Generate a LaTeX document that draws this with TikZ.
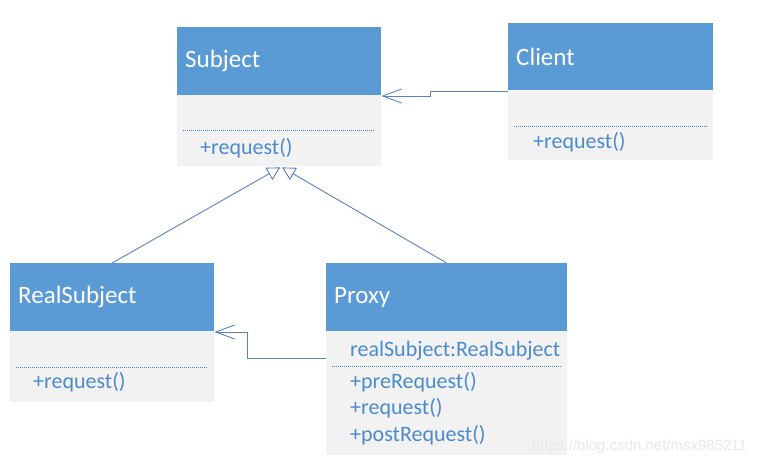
\documentclass[tikz,border=0pt]{standalone}
\usepackage{fontspec}
\setmainfont{Carlito}
\newfontfamily\markfont{Liberation Sans}
\usepackage{tikz}
\usetikzlibrary{arrows.meta,positioning}
\definecolor{headblue}{RGB}{91,155,213}
\definecolor{bodygray}{RGB}{242,242,242}
\definecolor{memblue}{RGB}{76,139,204}
\definecolor{lineblue}{RGB}{91,128,190}

\begin{document}
\begin{tikzpicture}[
    x=1pt, y=-1pt,
    head/.style={anchor=north west, fill=headblue, text=white, inner xsep=8pt,
                 minimum height=68pt, align=left, font=\fontsize{25}{29}\selectfont},
    body/.style={anchor=north west, fill=bodygray, inner sep=0pt},
    member/.style={anchor=west, inner sep=0pt, text=memblue, font=\fontsize{22}{26}\selectfont},
    sep/.style={draw=memblue, line width=0.6pt, dash pattern=on 1pt off 1pt},
    assoc/.style={-{Straight Barb[length=19pt, width=14pt]}, draw=lineblue, line width=0.9pt},
    inherit/.style={-{Triangle[open, length=13pt, width=14pt]}, draw=lineblue, line width=0.9pt}
]
    \useasboundingbox (0,0) rectangle (772,467);

    % Subject
    \node[head, text width=188pt] (subjhead) at (177,27) {Subject};
    \node[body, minimum width=204pt, minimum height=71pt] (subjbody) at (177,95) {};
    \draw[sep] (183,130) -- (375,130);
    \node[member] (subjreq) at (200,148) {+request()};

    % Client
    \node[head, text width=189pt, minimum height=67pt] (clienthead) at (508,23) {Client};
    \node[body, minimum width=205pt, minimum height=70pt] (clientbody) at (508,90) {};
    \draw[sep] (514,126) -- (707,126);
    \node[member] (clientreq) at (533,142) {+request()};

    % RealSubject
    \node[head, text width=188pt] (realhead) at (10,263) {RealSubject};
    \node[body, minimum width=204pt, minimum height=71pt] (realbody) at (10,331) {};
    \draw[sep] (16,367) -- (208,367);
    \node[member] (realreq) at (33,382) {+request()};

    % Proxy
    \node[head, text width=225pt] (proxyhead) at (326,263) {Proxy};
    \node[body, minimum width=241pt, minimum height=124pt] (proxybody) at (326,331) {};
    \node[member] (proxyattr) at (350,351) {realSubject:RealSubject};
    \draw[sep] (332,366) -- (561,366);
    \node[member] (proxypre) at (350,382) {+preRequest()};
    \node[member] (proxyreq) at (350,408) {+request()};
    \node[member] (proxypost) at (350,435) {+postRequest()};

    % Associations
    \coordinate (clientout) at (508,91);
    \coordinate (proxyout) at (326,358);
    \draw[assoc] (clientout) -- ++(-78,0) |- ([yshift=-1pt]subjbody.north east);
    \draw[assoc] (proxyout) -- ++(-79,0) |- ([yshift=-1pt]realbody.north east);

    % Generalizations
    \draw[inherit] (realhead.north) -- ([xshift=1pt,yshift=-1pt]subjbody.south);
    \draw[inherit] (proxyhead.north) -- ([xshift=3pt,yshift=-1pt]subjbody.south);

    % Watermark
    \node[anchor=west, inner sep=0pt, text=black!9, font=\markfont\fontsize{15}{18}\selectfont]
        (mark) at (532,447) {https://blog.csdn.net/msx985211};
\end{tikzpicture}
\end{document}
